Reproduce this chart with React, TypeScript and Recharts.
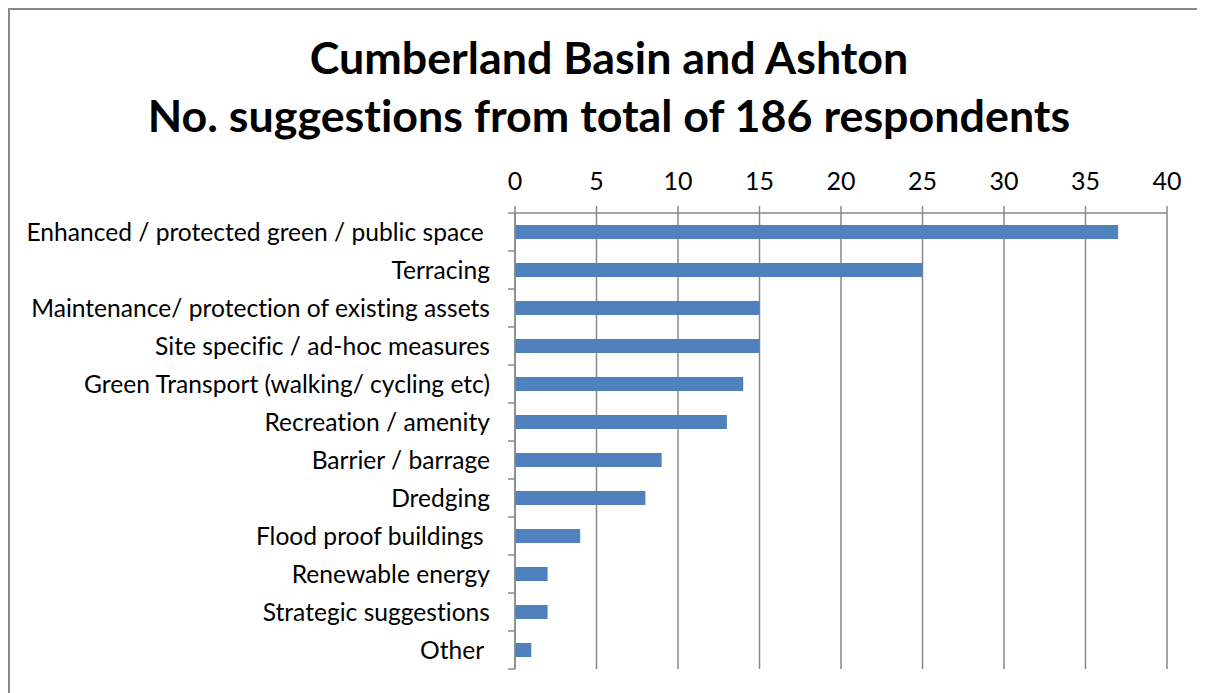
import React from 'react';
import { BarChart, Bar, XAxis, YAxis, CartesianGrid } from 'recharts';

const categories = [
  'Enhanced / protected green / public space ',
  'Terracing',
  'Maintenance/ protection of existing assets',
  'Site specific / ad-hoc measures',
  'Green Transport (walking/ cycling etc)',
  'Recreation / amenity',
  'Barrier / barrage',
  'Dredging',
  'Flood proof buildings ',
  'Renewable energy',
  'Strategic suggestions',
  'Other ',
];
const values = [37, 25, 15, 15, 14, 13, 9, 8, 4, 2, 2, 1];
const xTicks = [0, 5, 10, 15, 20, 25, 30, 35, 40];
const titleLines = ['Cumberland Basin and Ashton', 'No. suggestions from total of 186 respondents'];

const data = categories.map((name, i) => ({ name, value: values[i] }));

const W = 1205;
const H = 693;
const MARGIN = { top: 163, right: 38, bottom: 24, left: 0 };
const X_AXIS_H = 50;
const Y_AXIS_W = 515;
const PLOT_H = H - MARGIN.top - MARGIN.bottom - X_AXIS_H;
const BAND = PLOT_H / categories.length;
const TICK_SIZE = 7;
const TICK_MARGIN = 18;
const GRID = '#888888';
const FONT = 'Lato, "Open Sans", sans-serif';
const NOLIG: React.CSSProperties = { fontVariantLigatures: 'none', fontFeatureSettings: '"liga" 0, "clig" 0' };

const CatTick = (props: any) => {
  const { x, y, payload, index } = props;
  const ax = x + TICK_MARGIN + TICK_SIZE;
  return (
    <g>
      <text
        x={x}
        y={y}
        dy="0.36em"
        textAnchor="end"
        xmlSpace="preserve"
        style={{ whiteSpace: 'pre', ...NOLIG }}
        fontFamily={FONT}
        fontSize={24.6}
        fill="#000"
      >
        {payload.value}
      </text>
      <line x1={ax - TICK_SIZE} x2={ax} y1={y - BAND / 2} y2={y - BAND / 2} stroke={GRID} strokeWidth={1.5} />
      {index === categories.length - 1 && (
        <line x1={ax - TICK_SIZE} x2={ax} y1={y + BAND / 2} y2={y + BAND / 2} stroke={GRID} strokeWidth={1.5} />
      )}
    </g>
  );
};

export default function App() {
  return (
    <div style={{ position: 'relative', width: W, height: H, marginLeft: -8, marginTop: -8, overflow: 'hidden', background: '#fff' }}>
      <div
        style={{
          position: 'absolute',
          left: 8,
          top: 8,
          width: 1400,
          height: 900,
          borderLeft: '2px solid #898989',
          borderTop: '2px solid #898989',
          zIndex: 9,
          pointerEvents: 'none',
        }}
      />
      <div
        style={{
          position: 'absolute',
          left: 0,
          top: 28,
          width: 1218,
          textAlign: 'center',
          fontFamily: FONT,
          fontWeight: 'bold',
          fontSize: 44.8,
          lineHeight: '58px',
          color: '#000',
          ...NOLIG,
        }}
      >
        {titleLines.map((t) => (
          <div key={t}>{t}</div>
        ))}
      </div>
      <div style={{ position: 'absolute', left: 0, top: 0 }}>
        <BarChart width={W} height={H} data={data} layout="vertical" margin={MARGIN}>
          <CartesianGrid horizontal={false} vertical={true} stroke={GRID} strokeWidth={1.5} />
          <XAxis
            type="number"
            orientation="top"
            domain={[0, 40]}
            ticks={xTicks}
            height={X_AXIS_H}
            tickSize={TICK_SIZE}
            tickMargin={16}
            axisLine={{ stroke: GRID, strokeWidth: 1.5 }}
            tickLine={{ stroke: GRID, strokeWidth: 1.5 }}
            tick={{ fill: '#000', fontSize: 25, fontFamily: FONT }}
            interval={0}
          />
          <YAxis
            type="category"
            dataKey="name"
            width={Y_AXIS_W}
            tickSize={TICK_SIZE}
            tickMargin={TICK_MARGIN}
            axisLine={{ stroke: GRID, strokeWidth: 1.5 }}
            tickLine={false}
            tick={<CatTick />}
            interval={0}
          />
          <Bar dataKey="value" fill="#4F81BD" barSize={14} isAnimationActive={false} />
        </BarChart>
      </div>
    </div>
  );
}
